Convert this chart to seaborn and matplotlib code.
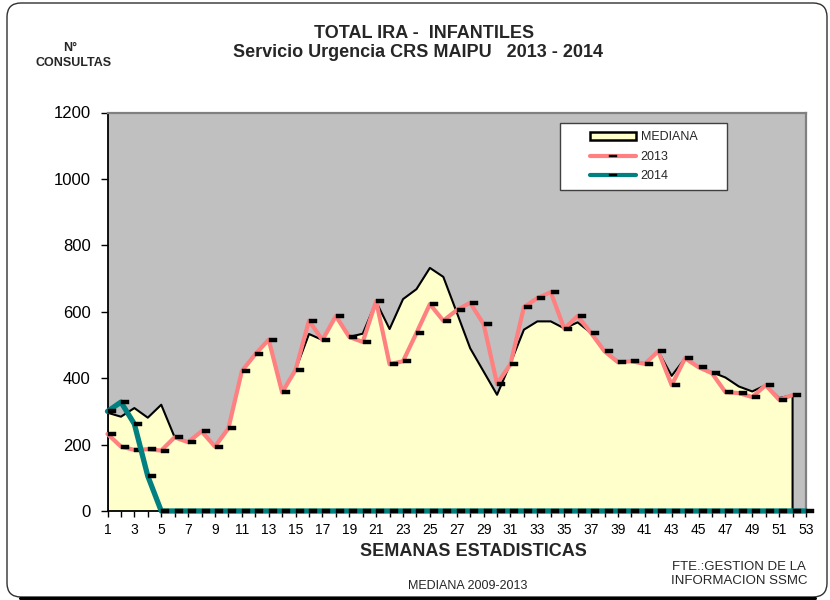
import numpy as np
import pandas as pd
import matplotlib
matplotlib.use("Agg")
import matplotlib.pyplot as plt
from matplotlib.patches import Patch, Rectangle, FancyBboxPatch
from matplotlib.lines import Line2D
from matplotlib.path import Path
from matplotlib.transforms import IdentityTransform
import seaborn as sns

# ---- data: weekly consultations ------------------------------------------
semanas = list(range(1, 54))

mediana = [296, 284, 310, 281, 320, 222, 207, 240, 194, 249,
           421, 472, 516, 357, 425, 533, 515, 587, 524, 534,
           630, 548, 638, 668, 732, 705, 598, 490, 420, 350,
           445, 546, 571, 571, 550, 568, 536, 481, 451, 451,
           445, 481, 407, 460, 433, 418, 402, 375, 360, 379,
           340, 349]

serie_2013 = [232, 194, 184, 186, 182, 222, 207, 240, 194, 249,
              421, 472, 516, 357, 425, 573, 515, 587, 524, 509,
              632, 442, 451, 536, 623, 573, 605, 627, 563, 383,
              442, 614, 641, 659, 549, 587, 536, 481, 448, 451,
              443, 481, 379, 460, 433, 415, 358, 355, 343, 379,
              335, 349]

serie_2014 = [300, 328, 262, 105, 0, 0, 0, 0, 0, 0,
              0, 0, 0, 0, 0, 0, 0, 0, 0, 0,
              0, 0, 0, 0, 0, 0, 0, 0, 0, 0,
              0, 0, 0, 0, 0, 0, 0, 0, 0, 0,
              0, 0, 0, 0, 0, 0, 0, 0, 0, 0,
              0, 0, 0]

y_ticks = [0, 200, 400, 600, 800, 1000, 1200]
x_labels = [str(s) if s % 2 == 1 else "" for s in semanas]

df_med = pd.DataFrame({"semana": semanas[:len(mediana)], "consultas": mediana})
df_13 = pd.DataFrame({"semana": semanas[:len(serie_2013)], "consultas": serie_2013})
df_14 = pd.DataFrame({"semana": semanas[:len(serie_2014)], "consultas": serie_2014})

# ---- style ----------------------------------------------------------------
sns.set_theme(style="white")
plt.rcParams["font.family"] = ["Liberation Sans", "DejaVu Sans"]

C_BG = "#C0C0C0"
C_MED = "#FFFFCC"
C_2013 = "#FF8080"
C_2014 = "#008080"

# short black dash drawn just to the right of each data point
dash = Path([(0, -0.22), (1, -0.22), (1, 0.22), (0, 0.22), (0, -0.22)],
            [Path.MOVETO, Path.LINETO, Path.LINETO, Path.LINETO, Path.CLOSEPOLY])
dash_c = Path([(-1, -0.22), (1, -0.22), (1, 0.22), (-1, 0.22), (-1, -0.22)],
              [Path.MOVETO, Path.LINETO, Path.LINETO, Path.LINETO, Path.CLOSEPOLY])

W, H = 830, 600
fig = plt.figure(figsize=(W / 100, H / 100), dpi=100)
fig.patch.set_facecolor("white")
ax = fig.add_axes([107.5 / W, 1 - 511 / H, (806 - 107.5) / W, (511 - 112.5) / H])
ax.set_facecolor(C_BG)

# median area with black outline (closed at both ends)
ax.fill_between(df_med["semana"], df_med["consultas"], 0,
                color=C_MED, lw=0, zorder=1)
ox = np.r_[df_med["semana"].iloc[0], df_med["semana"], df_med["semana"].iloc[-1]]
oy = np.r_[0, df_med["consultas"], 0]
ax.plot(ox, oy, color="black", lw=1.5, zorder=2)

# 2013 and 2014 series
sns.lineplot(data=df_13, x="semana", y="consultas", ax=ax, color=C_2013,
             lw=3.0, marker=dash, ms=10.8, mfc="black", mec="black", mew=0.3,
             estimator=None, sort=False, legend=False, zorder=3, clip_on=False)
sns.lineplot(data=df_14, x="semana", y="consultas", ax=ax, color=C_2014,
             lw=3.8, marker=dash, ms=10.8, mfc="black", mec="black", mew=0.3,
             estimator=None, sort=False, legend=False, zorder=4, clip_on=False)

ax.set_xlim(1, 53)
ax.set_ylim(0, 1200)
ax.set_xlabel("")
ax.set_ylabel("")
ax.set_xticks(semanas)
ax.set_xticklabels(x_labels)
ax.set_yticks(y_ticks)
ax.set_yticklabels([str(v) for v in y_ticks])
ax.tick_params(axis="x", bottom=True, direction="out", length=4, width=1,
               color="black", labelsize=10, pad=5, labelcolor="black")
ax.tick_params(axis="y", left=True, direction="out", length=5, width=1,
               color="black", labelsize=12, pad=7, labelcolor="black")

for side in ("left", "bottom"):
    ax.spines[side].set_color("black")
    ax.spines[side].set_linewidth(1.3)
for side in ("top", "right"):
    ax.spines[side].set_color("#808080")
    ax.spines[side].set_linewidth(1.6)

# legend box
leg_box = Rectangle((0.648, 0.8065), 0.239, 0.166, transform=ax.transAxes,
                    facecolor="white", edgecolor="#404040", lw=1.0, zorder=5)
ax.add_patch(leg_box)
handles = [
    Patch(facecolor=C_MED, edgecolor="black", lw=1.8),
    Line2D([], [], color=C_2013, lw=3.0, marker=dash_c, ms=5.5,
           mfc="black", mec="black", mew=0.3),
    Line2D([], [], color=C_2014, lw=3.0, marker=dash_c, ms=5.5,
           mfc="black", mec="black", mew=0.3),
]
leg = ax.legend(handles, ["MEDIANA", "2013", "2014"], loc="center",
                bbox_to_anchor=(0.7675, 0.889), frameon=False, fontsize=9,
                handlelength=3.7, handleheight=0.6, handletextpad=0.35,
                labelspacing=0.6, borderpad=0)
leg.set_zorder(6)

# titles and annotations
fig.text(424 / W, 1 - 34 / H, "TOTAL IRA -  INFANTILES", ha="center",
         va="center", fontsize=13, fontweight="bold")
fig.text(418 / W, 1 - 52.5 / H, "Servicio Urgencia CRS MAIPU   2013 - 2014",
         ha="center", va="center", fontsize=13, fontweight="bold")
fig.text(70 / W, 1 - 48 / H, "N°", ha="center", va="center",
         fontsize=9, fontweight="bold")
fig.text(74 / W, 1 - 63 / H, "CONSULTAS", ha="center", va="center",
         fontsize=9, fontweight="bold")
fig.text(473 / W, 1 - 551 / H, "SEMANAS ESTADISTICAS", ha="center",
         va="center", fontsize=13, fontweight="bold")
fig.text(739 / W, 1 - 567 / H, "FTE.:GESTION DE LA", ha="center",
         va="center", fontsize=9.5)
fig.text(739 / W, 1 - 581 / H, "INFORMACION SSMC", ha="center",
         va="center", fontsize=9.5)
fig.text(468 / W, 1 - 586 / H, "MEDIANA 2009-2013", ha="center",
         va="center", fontsize=9)

# rounded chart border with a heavier bottom edge
border = FancyBboxPatch((7, 3), 820, 594, boxstyle="round,pad=0,rounding_size=14",
                        transform=IdentityTransform(), facecolor="none",
                        edgecolor="#303030", lw=1.0)
fig.add_artist(border)
fig.add_artist(Line2D([20, 815], [2.2, 2.2], transform=IdentityTransform(),
                      color="black", lw=2.2))

fig.savefig("out.png", dpi=100)
